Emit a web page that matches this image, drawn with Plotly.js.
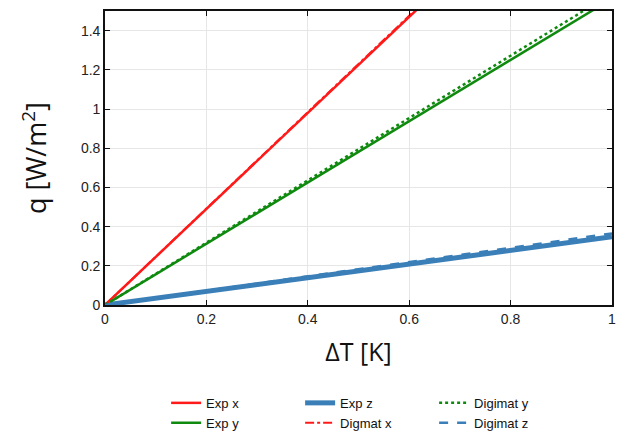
<!DOCTYPE html>
<html>
<head>
<meta charset="utf-8">
<script src="https://cdn.plot.ly/plotly-3.0.1.min.js"></script>
<style>html,body{margin:0;padding:0;background:#fff;}#chart{width:617px;height:434px;}</style>
</head>
<body>
<div id="chart"></div>
<script>
// Data
const deltaT = [0, 0.2, 0.4, 0.6, 0.8, 1.0];
const expX = [0, 0.49, 0.98, 1.47, 1.96, 2.45];
const expY = [0, 0.313, 0.625, 0.938, 1.25, 1.563];
const expZ = [0, 0.07, 0.139, 0.209, 0.278, 0.348];
const digX = [0, 0.492, 0.985, 1.478, 1.97, 2.46];
const digY = [0, 0.318, 0.636, 0.954, 1.272, 1.59];
const digZ = [0, 0.073, 0.146, 0.219, 0.292, 0.365];
const seriesNames = ["Exp x", "Exp y", "Exp z", "Digmat x", "Digimat y", "Digimat z"];

const red = "#ff1a1a", green = "#0f8a0f", blue = "#3a7fb8";
const traces = [
  {x: deltaT, y: expX, name: seriesNames[0], mode: "lines", line: {color: red, width: 2.5}, legendrank: 1},
  {x: deltaT, y: expY, name: seriesNames[1], mode: "lines", line: {color: green, width: 2.5}, legendrank: 4},
  {x: deltaT, y: expZ, name: seriesNames[2], mode: "lines", line: {color: blue, width: 5}, legendrank: 2},
  {x: deltaT, y: digX, name: seriesNames[3], mode: "lines", line: {color: red, width: 2, dash: "dashdot"}, legendrank: 5},
  {x: deltaT, y: digY, name: seriesNames[4], mode: "lines", line: {color: green, width: 2.5, dash: "dot"}, legendrank: 3},
  {x: deltaT, y: digZ, name: seriesNames[5], mode: "lines", line: {color: blue, width: 2.5, dash: "dash"}, legendrank: 6}
];

const tickFont = {family: "Liberation Sans, Arial, sans-serif", size: 14, color: "#222"};
const layout = {
  width: 617, height: 434,
  margin: {l: 105, r: 5, t: 11, b: 129, autoexpand: false},
  paper_bgcolor: "#fff", plot_bgcolor: "#fff",
  showlegend: true,
  xaxis: {
    range: [0, 1], dtick: 0.2, tick0: 0, automargin: false,
    showgrid: true, gridcolor: "#e6e6e6", gridwidth: 1,
    zeroline: false, showline: true, linecolor: "#111", linewidth: 1.8, mirror: "allticks",
    ticks: "inside", ticklen: 5, tickcolor: "#111",
    tickfont: tickFont,
    title: {text: "ΔT [K]", font: {family: "Open Sans, sans-serif", size: 25, color: "#111"}, standoff: 18}
  },
  yaxis: {
    range: [0, 1.5], dtick: 0.2, tick0: 0, automargin: false,
    showgrid: true, gridcolor: "#e6e6e6", gridwidth: 1,
    zeroline: false, showline: true, linecolor: "#111", linewidth: 1.8, mirror: "allticks",
    ticks: "inside", ticklen: 5, tickcolor: "#111",
    tickfont: tickFont,
    title: {text: "q [W/m<sup>2</sup>]", font: {family: "Open Sans, sans-serif", size: 27, color: "#111"}, standoff: 26}
  },
  legend: {
    orientation: "h", x: 0.517, xanchor: "center", y: -0.282, yanchor: "top",
    font: {family: "Liberation Sans, Arial, sans-serif", size: 13, color: "#111"},
    entrywidth: 89, entrywidthmode: "pixels",
    bgcolor: "rgba(0,0,0,0)", tracegroupgap: 0
  }
};

Plotly.newPlot("chart", traces, layout, {displayModeBar: false, staticPlot: true});
</script>
</body>
</html>
